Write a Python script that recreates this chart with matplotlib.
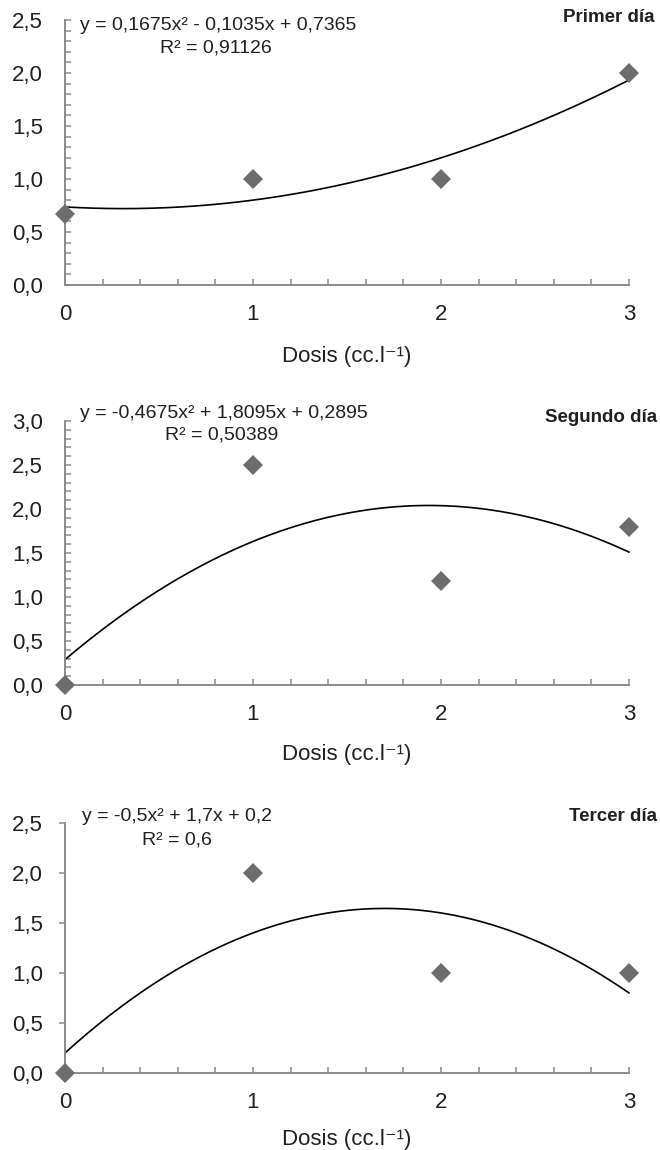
import numpy as np
import matplotlib.pyplot as plt
from matplotlib.ticker import MultipleLocator, FuncFormatter

plt.rcParams['font.family'] = ['Liberation Sans', 'DejaVu Sans']

# ===========================
# DATOS
# ===========================
dosis = [0, 1, 2, 3]

dia1_vals = [0.67, 1.0, 1.0, 2.0]
dia2_vals = [0.0, 2.5, 1.18, 1.8]
dia3_vals = [0.0, 2.0, 1.0, 1.0]

# coeficientes de la tendencia polinomica (a, b, c) tal como aparecen en el grafico
dia1_coef = [0.1675, -0.1035, 0.7365]
dia2_coef = [-0.4675, 1.8095, 0.2895]
dia3_coef = [-0.5, 1.7, 0.2]

titulos = ['Primer día', 'Segundo día', 'Tercer día']
ecuaciones = ['y = 0,1675x² - 0,1035x + 0,7365',
              'y = -0,4675x² + 1,8095x + 0,2895',
              'y = -0,5x² + 1,7x + 0,2']
r2_textos = ['R² = 0,91126', 'R² = 0,50389', 'R² = 0,6']
y_max = [2.5, 3.0, 2.5]

AXIS_COLOR = '#8a8a8a'
MARKER_COLOR = '#6d6d6d'
TEXT_COLOR = '#231f20'

# ===========================
# FIGURA
# ===========================
fig = plt.figure(figsize=(6.6, 11.5), dpi=100)

# posiciones [izq, abajo, ancho, alto] en fraccion de figura
rects = [[0.0985, 0.7522, 0.8545, 0.2304],
         [0.0985, 0.4043, 0.8545, 0.2296],
         [0.0985, 0.0670, 0.8545, 0.2174]]
label_pads = [15, 13, 11]

# posiciones de los textos en fraccion de ejes: (eq_x, eq_y, r2_x, r2_y, tit_x, tit_y)
text_pos = [(0.027, 0.981, 0.268, 0.894, 1.046, 1.011),
            (0.027, 1.030, 0.278, 0.947, 1.050, 1.013),
            (0.030, 1.024, 0.199, 0.932, 1.050, 1.024)]

series = [dia1_vals, dia2_vals, dia3_vals]
coefs = [dia1_coef, dia2_coef, dia3_coef]

coma = FuncFormatter(lambda v, p: f'{v:.1f}'.replace('.', ','))

for i in range(3):
    ax = fig.add_axes(rects[i])

    x = np.linspace(0, 3, 200)
    ax.plot(x, np.polyval(coefs[i], x), color='black', linewidth=1.2,
            clip_on=False, zorder=2)
    ax.plot(dosis, series[i], linestyle='none', marker='D', markersize=10,
            color=MARKER_COLOR, markeredgewidth=0, clip_on=False, zorder=3)

    ax.set_xlim(0, 3)
    ax.set_ylim(0, y_max[i])

    for s in ['top', 'right']:
        ax.spines[s].set_visible(False)
    for s in ['left', 'bottom']:
        ax.spines[s].set_color(AXIS_COLOR)
        ax.spines[s].set_linewidth(1.4)

    ax.xaxis.set_major_locator(MultipleLocator(1))
    ax.xaxis.set_minor_locator(MultipleLocator(0.2))
    ax.yaxis.set_major_locator(MultipleLocator(0.5))
    ax.yaxis.set_major_formatter(coma)

    ax.tick_params(axis='x', which='both', direction='in', length=4,
                   width=1.1, color=AXIS_COLOR, labelsize=16,
                   labelcolor=TEXT_COLOR, pad=14)
    if i < 2:
        ax.yaxis.set_minor_locator(MultipleLocator(0.1))
        ax.tick_params(axis='y', which='both', direction='in', length=4,
                       width=1.1, color=AXIS_COLOR, labelsize=16,
                       labelcolor=TEXT_COLOR, pad=16)
    else:
        ax.tick_params(axis='y', which='major', direction='out', length=4,
                       width=1.1, color=AXIS_COLOR, labelsize=16,
                       labelcolor=TEXT_COLOR, pad=12)

    ax.set_xlabel('Dosis (cc.l⁻¹)', fontsize=16,
                  color=TEXT_COLOR, labelpad=label_pads[i])

    ex, ey, rx, ry, tx, ty = text_pos[i]
    ax.text(ex, ey, ecuaciones[i], transform=ax.transAxes, fontsize=14,
            color=TEXT_COLOR, ha='left', va='center')
    ax.text(rx, ry, r2_textos[i], transform=ax.transAxes, fontsize=14,
            color=TEXT_COLOR, ha='center', va='center')
    ax.text(tx, ty, titulos[i], transform=ax.transAxes,
            fontsize=13.5, fontweight='bold', color=TEXT_COLOR,
            ha='right', va='center')

fig.savefig('out.png', dpi=100, facecolor='white')
